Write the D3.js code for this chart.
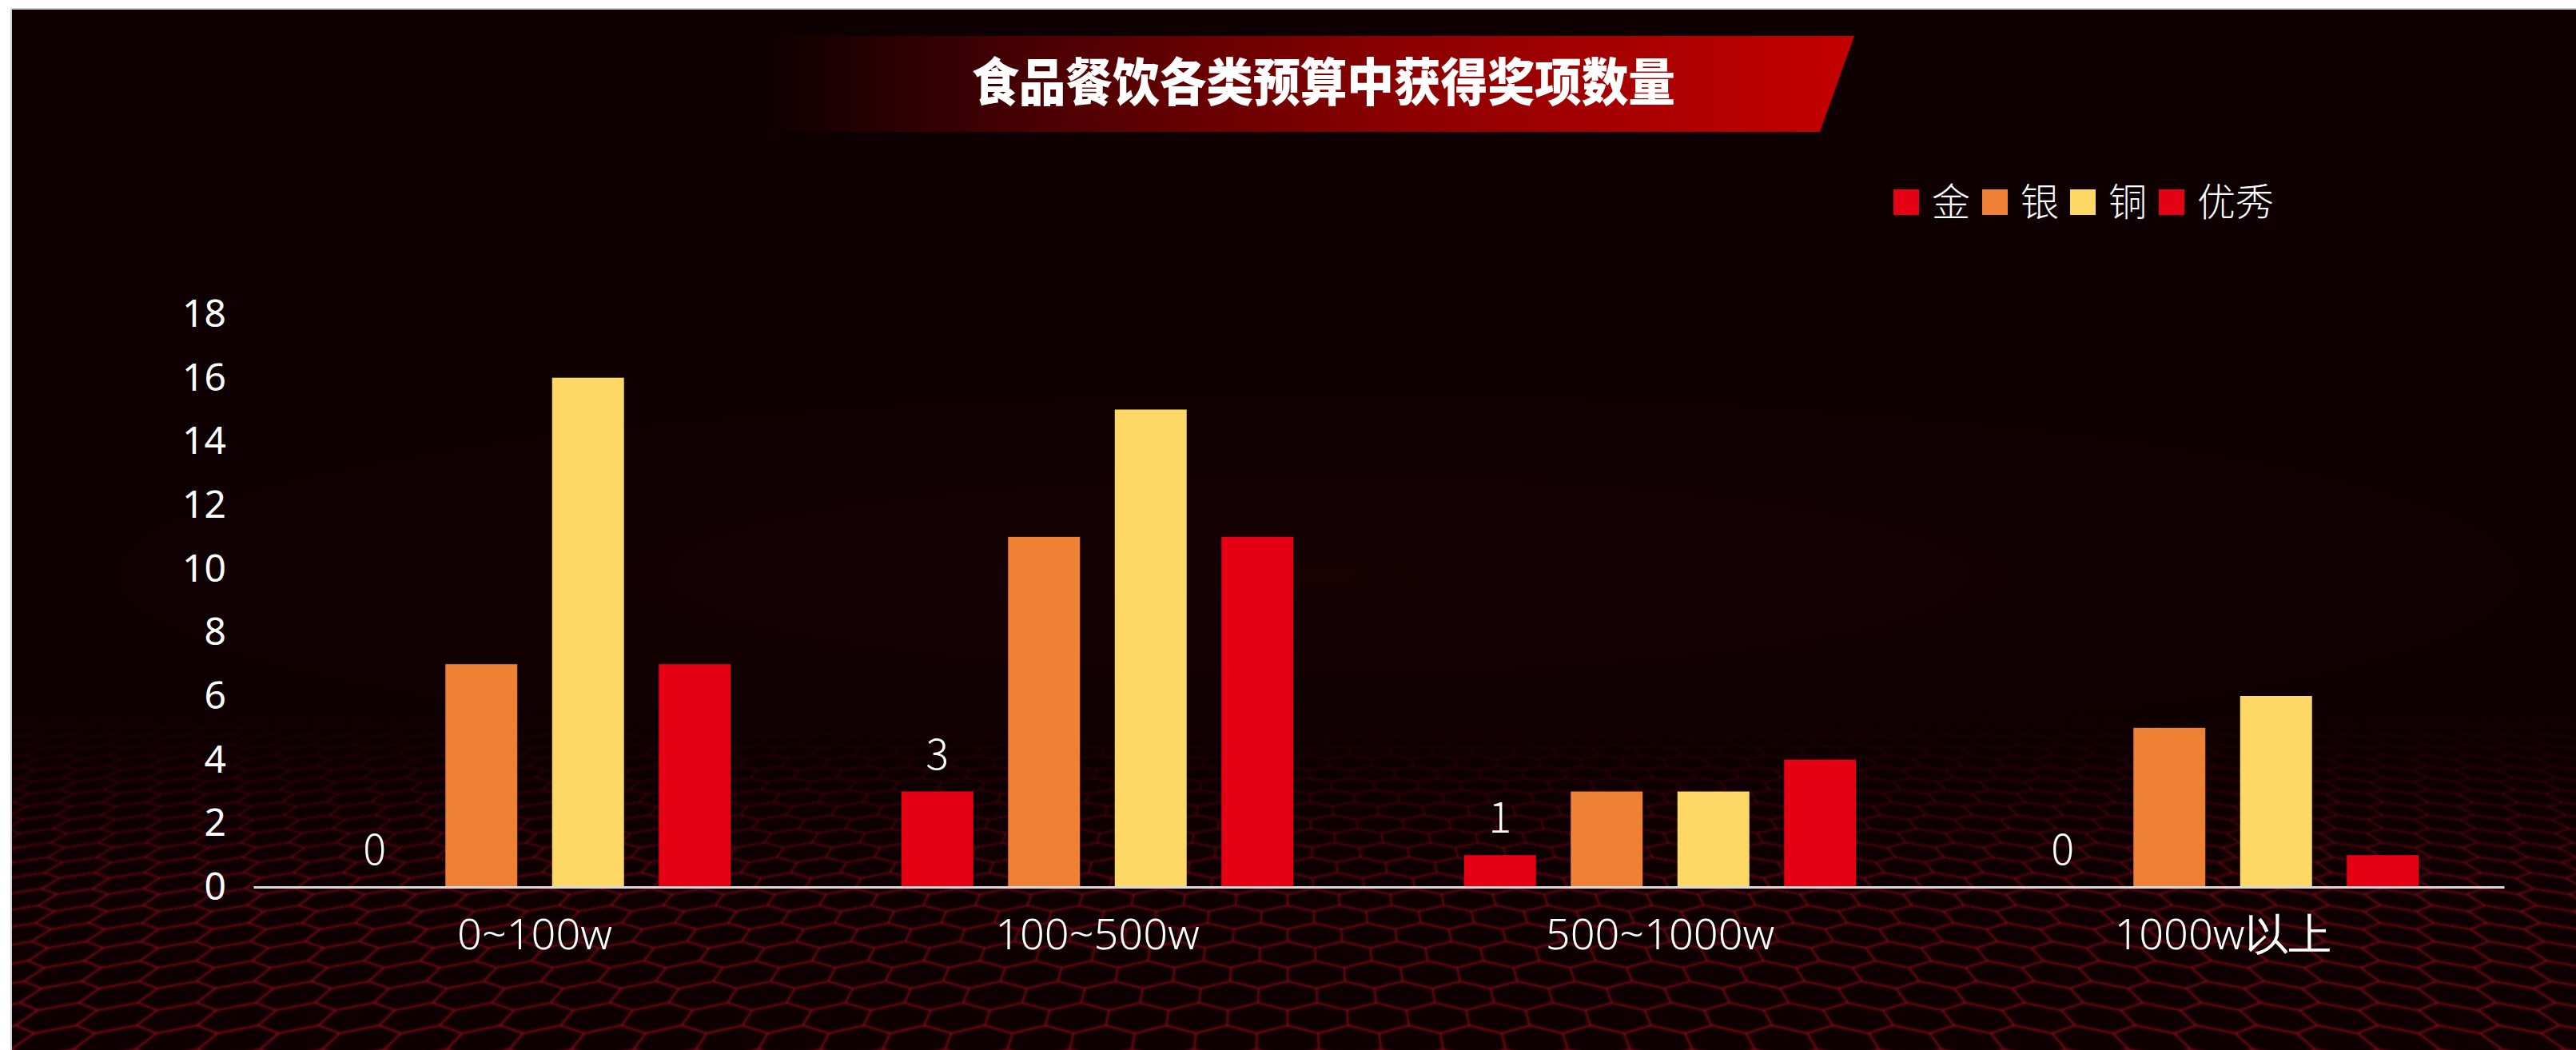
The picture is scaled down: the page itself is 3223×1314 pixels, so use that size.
<!DOCTYPE html>
<html>
<head>
<meta charset="utf-8">
<script src="https://cdn.jsdelivr.net/npm/d3@7"></script>
<style>
  body { margin: 0; background: #ffffff; overflow: hidden; }
  .tick text { font-family: "Noto Sans", sans-serif; }
</style>
</head>
<body>
<div id="chart-area"></div>
<script>
/*
*    食品餐饮各类预算中获得奖项数量 - grouped bars
*/

var categories = ["0~100w", "100~500w", "500~1000w", "1000w以上"];
var seriesNames = ["金", "银", "铜", "优秀"];
var gold = [0, 3, 1, 0];
var silver = [7, 11, 3, 5];
var bronze = [16, 15, 3, 6];
var excellent = [7, 11, 4, 1];
var yTicks = [0, 2, 4, 6, 8, 10, 12, 14, 16, 18];
var colors = ["#e60013", "#ee8133", "#fdd866", "#e60013"];

var width = 3223, height = 1314;
var margin = { left:317, right:90, top:393, bottom:204 };

var svg = d3.select("#chart-area")
    .append("svg")
        .attr("width", width)
        .attr("height", height);

var defs = svg.append("defs");

// panel
svg.append("rect")
    .attr("x", 13).attr("y", 10)
    .attr("width", width).attr("height", height)
    .attr("fill", "#d2d2d2");
svg.append("rect")
    .attr("x", 15).attr("y", 12)
    .attr("width", width).attr("height", height)
    .attr("fill", "#0e0002");

var glow = defs.append("radialGradient").attr("id", "glow");
glow.append("stop").attr("offset", "0%").attr("stop-color", "#220306").attr("stop-opacity", 0.45);
glow.append("stop").attr("offset", "100%").attr("stop-color", "#220306").attr("stop-opacity", 0);
svg.append("ellipse")
    .attr("cx", 1650).attr("cy", 720)
    .attr("rx", 1600).attr("ry", 240)
    .attr("fill", "url(#glow)");

// hex floor
var fade = defs.append("linearGradient")
    .attr("id", "fade")
    .attr("gradientUnits", "userSpaceOnUse")
    .attr("x1", 0).attr("y1", 890).attr("x2", 0).attr("y2", 1120);
fade.append("stop").attr("offset", "0%").attr("stop-color", "#fff").attr("stop-opacity", 0);
fade.append("stop").attr("offset", "100%").attr("stop-color", "#fff").attr("stop-opacity", 1);
defs.append("mask").attr("id", "floorMask")
    .append("rect")
    .attr("x", 15).attr("y", 12).attr("width", width).attr("height", height)
    .attr("fill", "url(#fade)");
defs.append("filter").attr("id", "soft")
    .append("feGaussianBlur").attr("stdDeviation", 1.6);

var horizon = 216, A = 58700, B = 2407, cx = 1611;
function proj(X, v) {
    return [cx + B * X / v, horizon + A / v];
}
var hexes = [];
for (var k = 34; k <= 62; k++) {
    var v0 = 1.5 * k;
    var off = (k % 2) * 0.866;
    for (var i = -45; i <= 45; i++) {
        var X0 = 1.732 * i + off;
        var pts = [];
        for (var j = 0; j < 6; j++) {
            var a = Math.PI / 180 * (30 + 60 * j);
            pts.push(proj(X0 + Math.cos(a), v0 + Math.sin(a)));
        }
        var c = proj(X0, v0);
        if (c[0] < -150 || c[0] > width + 150 || c[1] > height + 80 || c[1] < 860) continue;
        hexes.push({ pts: pts, sw: 2.8 * (c[1] - horizon) / 1084 });
    }
}
svg.append("g")
    .attr("mask", "url(#floorMask)")
    .attr("filter", "url(#soft)")
    .selectAll("path")
    .data(hexes)
    .enter().append("path")
        .attr("d", function(d){ return "M" + d.pts.join("L") + "Z"; })
        .attr("fill", "none")
        .attr("stroke", "#7c0a1c")
        .attr("stroke-opacity", 0.6)
        .attr("stroke-width", function(d){ return d.sw; });

// title banner
var bannerGrad = defs.append("linearGradient")
    .attr("id", "banner")
    .attr("gradientUnits", "userSpaceOnUse")
    .attr("x1", 960).attr("y1", 0).attr("x2", 2320).attr("y2", 0);
bannerGrad.append("stop").attr("offset", "0%").attr("stop-color", "#0e0002");
bannerGrad.append("stop").attr("offset", "25%").attr("stop-color", "#4a0003");
bannerGrad.append("stop").attr("offset", "60%").attr("stop-color", "#8e0000");
bannerGrad.append("stop").attr("offset", "100%").attr("stop-color", "#c40000");
svg.append("polygon")
    .attr("points", "960,45 2320,45 2277,165 960,165")
    .attr("fill", "url(#banner)");
svg.append("text")
    .attr("x", 1656)
    .attr("y", 126)
    .attr("text-anchor", "middle")
    .attr("font-family", "'Noto Sans CJK SC', sans-serif")
    .attr("font-weight", 900)
    .attr("font-size", "64px")
    .attr("textLength", 880)
    .attr("lengthAdjust", "spacingAndGlyphs")
    .attr("fill", "#ffffff")
    .text("食品餐饮各类预算中获得奖项数量");

// legend
var legend = svg.append("g")
    .attr("transform", "translate(2369,237)");
var legendX = [0, 111, 221, 332];
seriesNames.forEach(function(name, i) {
    var row = legend.append("g")
        .attr("transform", "translate(" + legendX[i] + ",0)");
    row.append("rect")
        .attr("width", 32)
        .attr("height", 32)
        .attr("fill", colors[i]);
    row.append("text")
        .attr("x", 48)
        .attr("y", 33)
        .attr("font-family", "'Noto Sans CJK SC', sans-serif")
        .attr("font-weight", 300)
        .attr("font-size", "48px")
        .attr("fill", "#ffffff")
        .text(name);
});

// scales
var x0 = d3.scaleBand()
    .domain(categories)
    .range([margin.left, width - margin.right])
    .paddingInner(0)
    .paddingOuter(0);

var x1 = d3.scaleBand()
    .domain(seriesNames)
    .range([0, x0.bandwidth()])
    .paddingInner(0.326)
    .paddingOuter(0.8);

var y = d3.scaleLinear()
    .domain([0, 18])
    .range([height - margin.bottom, margin.top]);

var series = [gold, silver, bronze, excellent];
var data = [];
categories.forEach(function(cat, ci) {
    seriesNames.forEach(function(s, si) {
        data.push({ cat: cat, name: s, idx: si, value: series[si][ci] });
    });
});

// Y Axis
var yAxisCall = d3.axisLeft(y)
    .tickValues(yTicks)
    .tickSize(0)
    .tickPadding(10);
var yAxis = svg.append("g")
    .attr("class", "y axis")
    .attr("transform", "translate(293,0)")
    .call(yAxisCall);
yAxis.select(".domain").remove();
yAxis.selectAll("text")
    .attr("font-size", "48px")
    .attr("fill", "#ffffff");

// bars
svg.append("g").selectAll("rect")
    .data(data)
    .enter().append("rect")
        .attr("x", function(d){ return x0(d.cat) + x1(d.name); })
        .attr("y", function(d){ return y(d.value); })
        .attr("width", x1.bandwidth())
        .attr("height", function(d){ return y(0) - y(d.value); })
        .attr("fill", function(d){ return colors[d.idx]; });

// labels on the first series
svg.append("g").selectAll("text")
    .data(data.filter(function(d){ return d.idx === 0; }))
    .enter().append("text")
        .attr("x", function(d){ return x0(d.cat) + x1(d.name) + x1.bandwidth() / 2; })
        .attr("y", function(d){ return y(d.value) - 28; })
        .attr("text-anchor", "middle")
        .attr("font-family", "'Noto Sans CJK SC', sans-serif")
        .attr("font-weight", 300)
        .attr("font-size", "54px")
        .attr("fill", "#ffffff")
        .text(function(d){ return d.value; });

// X Axis
var xAxisCall = d3.axisBottom(x0)
    .tickSize(0)
    .tickPadding(40);
var xAxis = svg.append("g")
    .attr("class", "x axis")
    .attr("transform", "translate(0," + y(0) + ")")
    .call(xAxisCall);
xAxis.select(".domain")
    .attr("stroke", "#d9d9d9")
    .attr("stroke-width", 3);
xAxis.selectAll("text")
    .attr("font-family", "'Noto Sans CJK SC', sans-serif")
    .attr("font-weight", 300)
    .attr("font-size", "54px")
    .attr("fill", "#ffffff");
</script>
</body>
</html>
